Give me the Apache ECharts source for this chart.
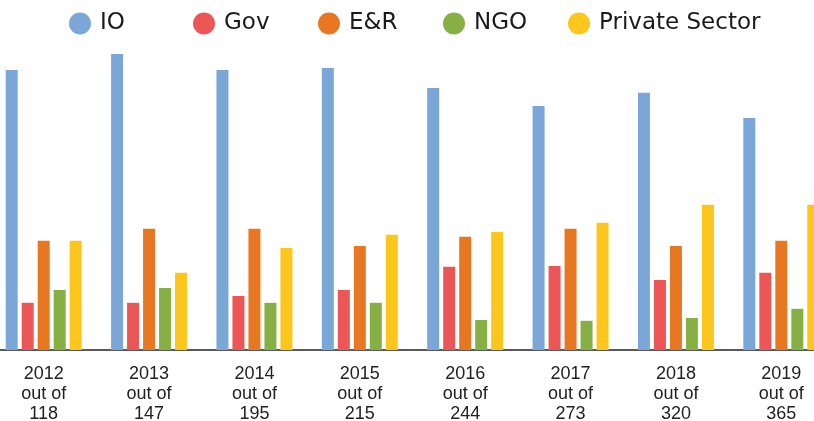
<!DOCTYPE html>
<html>
<head>
<meta charset="utf-8">
<script src="https://cdn.jsdelivr.net/npm/echarts@6/dist/echarts.min.js"></script>
<style>
  html, body {
    width: 814px;
    height: 421px;
    margin: 0;
    overflow: hidden;
    background: #fff;
    position: relative;
  }
  #main {
    position: absolute;
    left: -8.7px;
    top: 0;
    width: 843.4px;
    height: 421px;
  }
</style>
</head>
<body>
<div id="main"></div>
<script>
// roughly in percent
var years = ['2012', '2013', '2014', '2015', '2016', '2017', '2018', '2019']
var totals = ['118', '147', '195', '215', '244', '273', '320', '365']
var seriesNames = ['IO', 'Gov', 'E&R', 'NGO', 'Private Sector']
var io = [70, 74, 70, 70.5, 65.5, 61, 64.3, 58]
var gov = [11.8, 11.8, 13.5, 15, 20.8, 21, 17.5, 19.3]
var er = [27.3, 30.3, 30.3, 26, 28.3, 30.3, 26, 27.3]
var ngo = [15, 15.5, 11.8, 11.8, 7.5, 7.3, 8, 10.3]
var privateSector = [27.3, 19.3, 25.5, 28.8, 29.5, 31.8, 36.3, 36.3]

var colors = ['#7aa7d8', '#ec5656', '#e87722', '#86b043', '#fdc61c']
var values = [io, gov, er, ngo, privateSector]

var categories = years.map(function (y, i) {
  return y + '\nout of\n' + totals[i]
})

// the chart div is shifted 8.7px left, so legend lefts are shifted too
var legendLefts = [78, 202, 327, 452, 577]

var chart = echarts.init(document.getElementById('main'))

var option = {
  animation: false,
  color: colors,
  legend: seriesNames.map(function (name, i) {
    return {
      data: [name],
      left: legendLefts[i],
      top: 12,
      padding: 0,
      icon: 'circle',
      itemWidth: 22,
      itemHeight: 22,
      textStyle: {
        fontFamily: 'DejaVu Sans',
        fontSize: 23,
        color: '#1a1a1a',
        padding: [0, 0, 0, 4]
      }
    }
  }),
  grid: {
    left: 0,
    right: 0,
    top: 50,
    bottom: 71,
    outerBoundsMode: 'none'
  },
  xAxis: {
    type: 'category',
    data: categories,
    axisTick: { show: false },
    axisLine: { lineStyle: { color: '#5a5a5a', width: 2 } },
    axisLabel: {
      interval: 0,
      margin: 14,
      fontFamily: '"Liberation Sans", Arial, sans-serif',
      fontSize: 18,
      lineHeight: 20,
      color: '#222'
    }
  },
  yAxis: {
    type: 'value',
    min: 0,
    max: 75,
    show: false,
    splitLine: { show: false }
  },
  series: seriesNames.map(function (name, i) {
    return {
      name: name,
      type: 'bar',
      data: values[i],
      barWidth: 12,
      barGap: '33.3%',
      itemStyle: { color: colors[i] }
    }
  })
}

chart.setOption(option)
</script>
</body>
</html>
